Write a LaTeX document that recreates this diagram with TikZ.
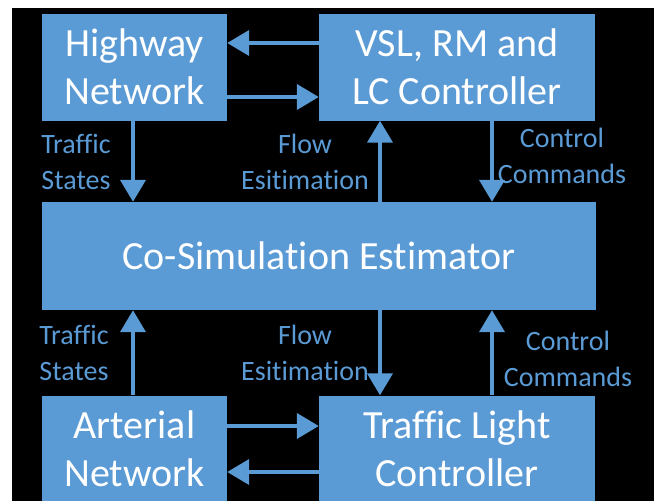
\documentclass[tikz,border=0pt]{standalone}
\usepackage{fontspec}
\setmainfont{Carlito}[Ligatures=NoCommon]
\usetikzlibrary{arrows.meta, positioning}
\definecolor{boxblue}{HTML}{5B9BD5}
\tikzset{
    ->, % makes the connectors directed
    >={Triangle[width=25pt, length=22pt]}, % big solid heads as in the slide
    block/.style={fill=boxblue, text=white, align=center, inner sep=0pt,
        font=\fontsize{40}{48}\selectfont}, % the blue boxes
    link/.style={draw=boxblue, line width=4pt}, % the blue connectors
    tag/.style={text=boxblue, align=center, inner sep=0pt,
        font=\fontsize{28}{36}\selectfont}, % the labels beside the connectors
}
\begin{document}
\begin{tikzpicture}[x=1pt, y=-1pt]
    \useasboundingbox (0,0) rectangle (654,501);
    \fill[white] (0,0) rectangle (654,501);
    \fill[black] (12,8) rectangle (654,501);
    \begin{scope}
    \clip (0,0) rectangle (654,501);
    \node[block, minimum width=185pt, minimum height=107pt] (hw) at (134.5,67) {Highway\\Network};
    \node[block, minimum width=276pt, minimum height=107pt] (vsl) at (457,67) {VSL, RM and\\LC Controller};
    \node[block, minimum width=554pt, minimum height=108pt] (est) at (319,256) {Co-Simulation Estimator};
    \node[block, minimum width=185pt, minimum height=107pt] (art) at (134.5,449) {Arterial\\Network};
    \node[block, minimum width=276pt, minimum height=107pt] (tlc) at (457,449) {Traffic Light\\Controller};
    \end{scope}
    % labels
    \node[tag] (ts1) at (76,162) {Traffic\\States};
    \node[tag] (fe1) at (305,162) {Flow\\Esitimation};
    \node[tag] (cc1) at (562,156) {Control\\Commands};
    \node[tag] (ts2) at (74,353) {Traffic\\States};
    \node[tag] (fe2) at (305,353) {Flow\\Esitimation};
    \node[tag] (cc2) at (568,359) {Control\\Commands};
    % connectors
    \draw[link] (vsl.west |- 0,43) -- (hw.east |- 0,43);
    \draw[link] (hw.east |- 0,97) -- (vsl.west |- 0,97);
    \draw[link] (hw.south -| 133,0) -- (est.north -| 133,0);
    \draw[link] (est.north -| 380,0) -- (vsl.south -| 380,0);
    \draw[link] (vsl.south -| 492,0) -- (est.north -| 492,0);
    \draw[link] (art.north -| 133,0) -- (est.south -| 133,0);
    \draw[link] (est.south -| 380,0) -- (tlc.north -| 380,0);
    \draw[link] (tlc.north -| 492,0) -- (est.south -| 492,0);
    \draw[link] (art.east |- 0,426) -- (tlc.west |- 0,426);
    \draw[link] (tlc.west |- 0,472) -- (art.east |- 0,472);
\end{tikzpicture}
\end{document}
